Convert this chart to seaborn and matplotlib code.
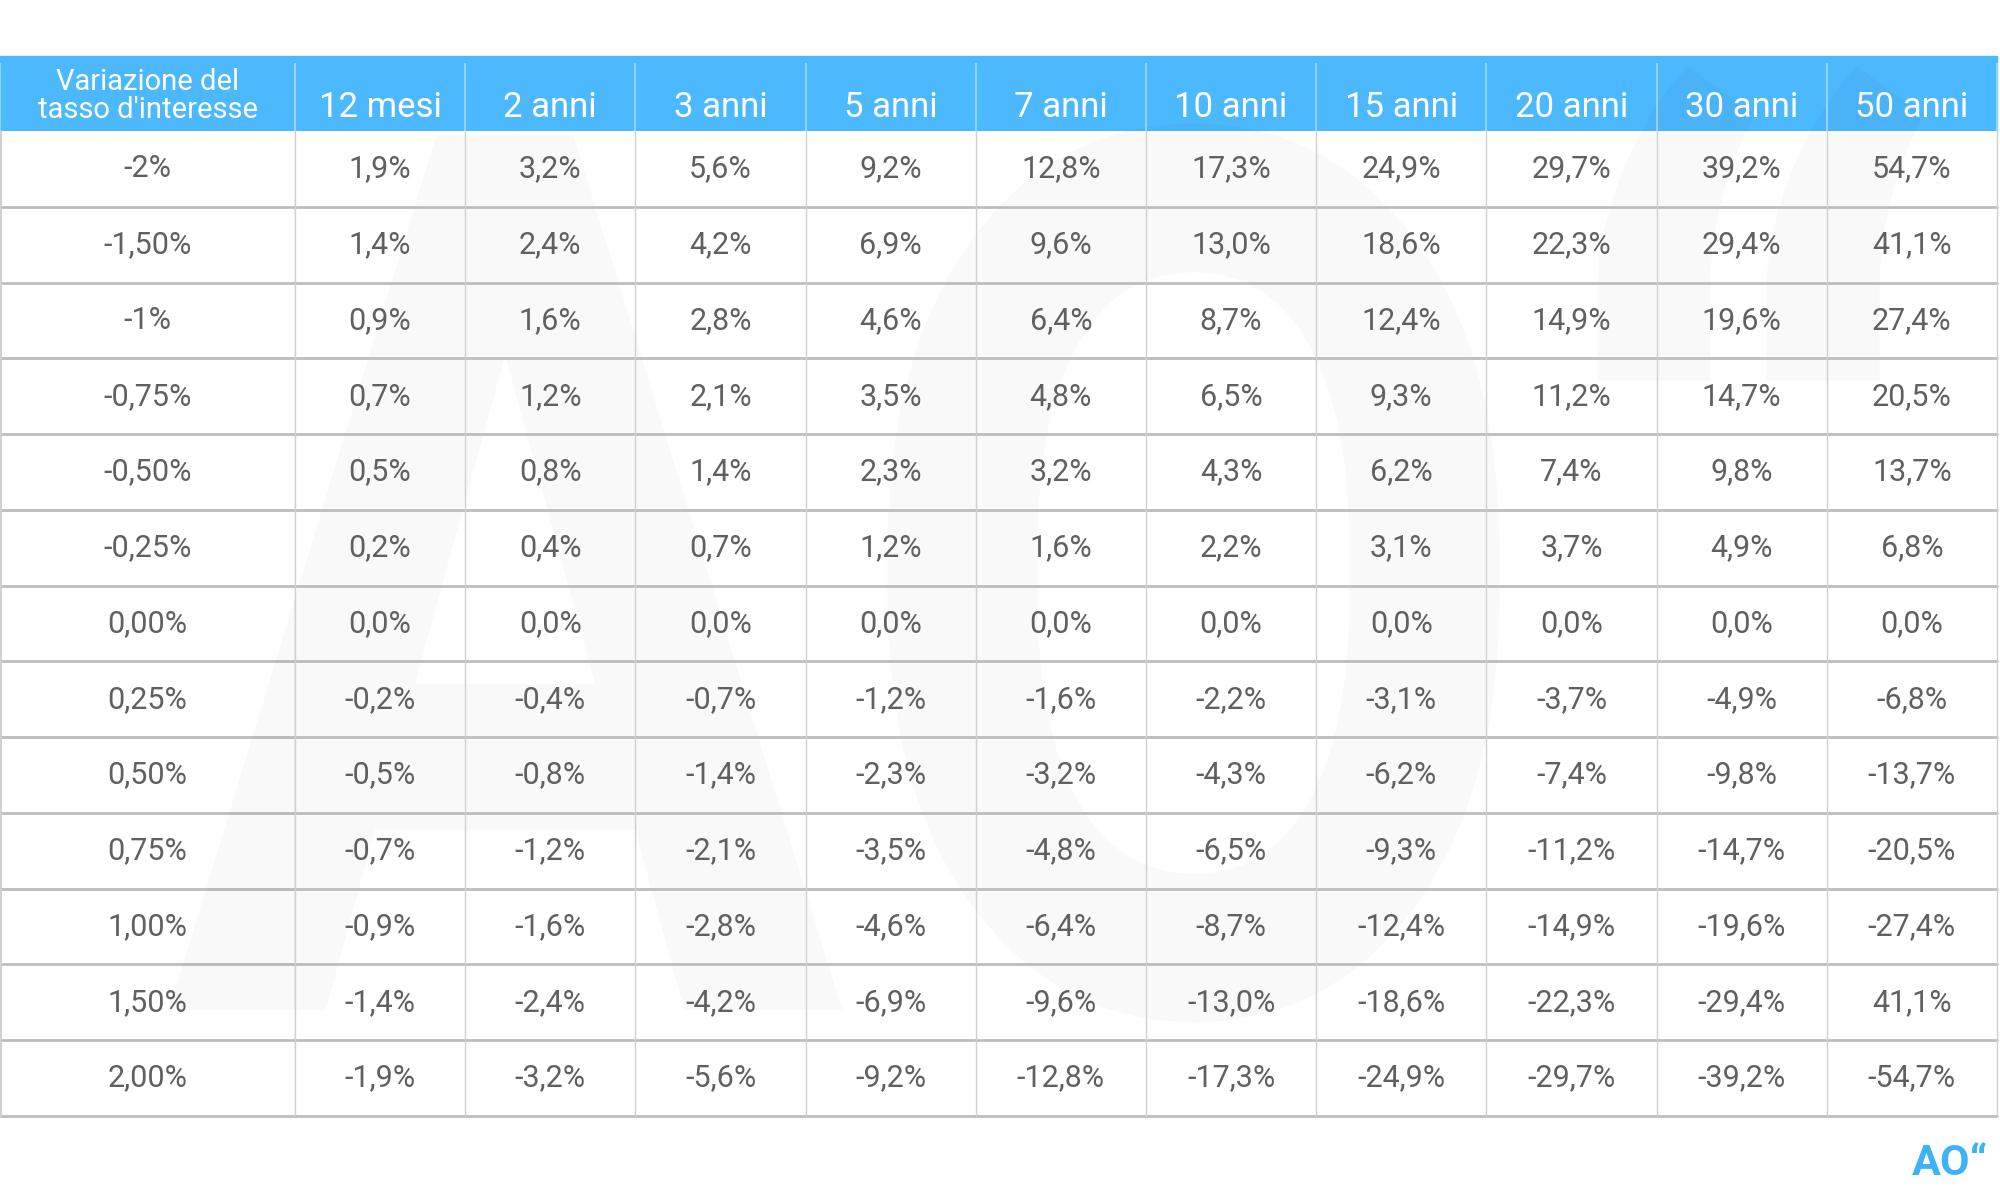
import numpy as np
import pandas as pd
import seaborn as sns
import matplotlib.pyplot as plt
from matplotlib.colors import ListedColormap
from matplotlib.patches import Rectangle, PathPatch
from matplotlib.textpath import TextPath
from matplotlib.font_manager import FontProperties
from matplotlib.transforms import Affine2D

# data
durations = ["12 mesi", "2 anni", "3 anni", "5 anni", "7 anni", "10 anni",
             "15 anni", "20 anni", "30 anni", "50 anni"]
rate_changes = ["-2%", "-1,50%", "-1%", "-0,75%", "-0,50%", "-0,25%", "0,00%",
                "0,25%", "0,50%", "0,75%", "1,00%", "1,50%", "2,00%"]
first_header = "Variazione del\ntasso d'interesse"

row_m200 = [1.9, 3.2, 5.6, 9.2, 12.8, 17.3, 24.9, 29.7, 39.2, 54.7]
row_m150 = [1.4, 2.4, 4.2, 6.9, 9.6, 13.0, 18.6, 22.3, 29.4, 41.1]
row_m100 = [0.9, 1.6, 2.8, 4.6, 6.4, 8.7, 12.4, 14.9, 19.6, 27.4]
row_m075 = [0.7, 1.2, 2.1, 3.5, 4.8, 6.5, 9.3, 11.2, 14.7, 20.5]
row_m050 = [0.5, 0.8, 1.4, 2.3, 3.2, 4.3, 6.2, 7.4, 9.8, 13.7]
row_m025 = [0.2, 0.4, 0.7, 1.2, 1.6, 2.2, 3.1, 3.7, 4.9, 6.8]
row_p000 = [0.0, 0.0, 0.0, 0.0, 0.0, 0.0, 0.0, 0.0, 0.0, 0.0]
row_p025 = [-0.2, -0.4, -0.7, -1.2, -1.6, -2.2, -3.1, -3.7, -4.9, -6.8]
row_p050 = [-0.5, -0.8, -1.4, -2.3, -3.2, -4.3, -6.2, -7.4, -9.8, -13.7]
row_p075 = [-0.7, -1.2, -2.1, -3.5, -4.8, -6.5, -9.3, -11.2, -14.7, -20.5]
row_p100 = [-0.9, -1.6, -2.8, -4.6, -6.4, -8.7, -12.4, -14.9, -19.6, -27.4]
row_p150 = [-1.4, -2.4, -4.2, -6.9, -9.6, -13.0, -18.6, -22.3, -29.4, 41.1]
row_p200 = [-1.9, -3.2, -5.6, -9.2, -12.8, -17.3, -24.9, -29.7, -39.2, -54.7]

values = pd.DataFrame([row_m200, row_m150, row_m100, row_m075, row_m050, row_m025,
                       row_p000, row_p025, row_p050, row_p075, row_p100, row_p150,
                       row_p200], index=rate_changes, columns=durations)

labels = values.map(lambda v: f"{v:.1f}%".replace(".", ","))

sns.set_theme(style="white")
plt.rcParams["font.family"] = ["Roboto", "DejaVu Sans"]

BLUE = "#4cb8fd"
TXT = "#606060"
HLINE = "#bdbdbd"
VLINE = "#d0d0d0"

W, H = 2000, 1190
fig = plt.figure(figsize=(20, 11.9), dpi=100)
fig.patch.set_facecolor("white")

top, bottom = 131, 1116
col1 = 295
right = 1997
ax_lab = fig.add_axes([0, (H - bottom) / H, col1 / W, (bottom - top) / H])
ax_val = fig.add_axes([col1 / W, (H - bottom) / H, (right - col1) / W, (bottom - top) / H])

white = ListedColormap(["white"])
cell_font = dict(fontsize=22, color=TXT, fontweight="normal", fontfamily="Roboto")

sns.heatmap(values, ax=ax_val, cmap=white, cbar=False, annot=labels.values, fmt="",
            annot_kws=cell_font, yticklabels=False)
lab_df = pd.DataFrame({first_header: np.zeros(len(rate_changes))}, index=rate_changes)
sns.heatmap(lab_df, ax=ax_lab, cmap=white, cbar=False,
            annot=np.array(rate_changes).reshape(-1, 1), fmt="",
            annot_kws=cell_font, yticklabels=False)

# faint watermark logo, drawn as a shape behind the numbers
wm_path = TextPath((0, 0), "AO\u201c", size=1,
                   prop=FontProperties(family="Roboto", weight="bold"))
wm = PathPatch(wm_path, facecolor="black", edgecolor="none", alpha=0.025,
               zorder=1.5, clip_on=False)
wm.set_transform(Affine2D().scale(1010 / W, 1230 / H).translate(165 / W, 180 / H)
                 + fig.transFigure)
ax_val.add_patch(wm)

# header labels on top
for ax, size in [(ax_val, 25), (ax_lab, 21)]:
    ax.xaxis.tick_top()
    ax.tick_params(axis="x", length=0, pad=5, labelsize=size, labelcolor="white")
    for t in ax.get_xticklabels():
        t.set_rotation(0)
        t.set_fontweight("normal")
        t.set_linespacing(1.0)
    ax.set_xlabel("")
    ax.set_ylabel("")
    for s in ax.spines.values():
        s.set_visible(False)

# blue header band
fig.add_artist(Rectangle((0, (H - top) / H), right / W, 75 / H,
                         transform=fig.transFigure, color=BLUE, zorder=-1))

# grid lines
nrows = len(rate_changes)
for ax, ncols in [(ax_lab, 1), (ax_val, len(durations))]:
    for i in range(1, nrows + 1):
        ax.axhline(i, color=HLINE, lw=2.0, zorder=2, clip_on=False)
    for j in range(0, ncols + 1):
        ax.axvline(j, color=VLINE, lw=1.0, zorder=2, clip_on=False)
    ax.vlines(range(0, ncols + 1), -0.9, 0, color="#9fd8ff", lw=1.2, clip_on=False)
ax_lab.axvline(0.002, color=VLINE, lw=1.5, clip_on=False)

# logo
fig.text(0.994, 0.013, "AO\u201c", fontsize=31, fontweight="bold", color="#3db2f7",
         ha="right", va="baseline", family=["Roboto", "DejaVu Sans"])

plt.savefig("out.png", dpi=100, facecolor="white")
